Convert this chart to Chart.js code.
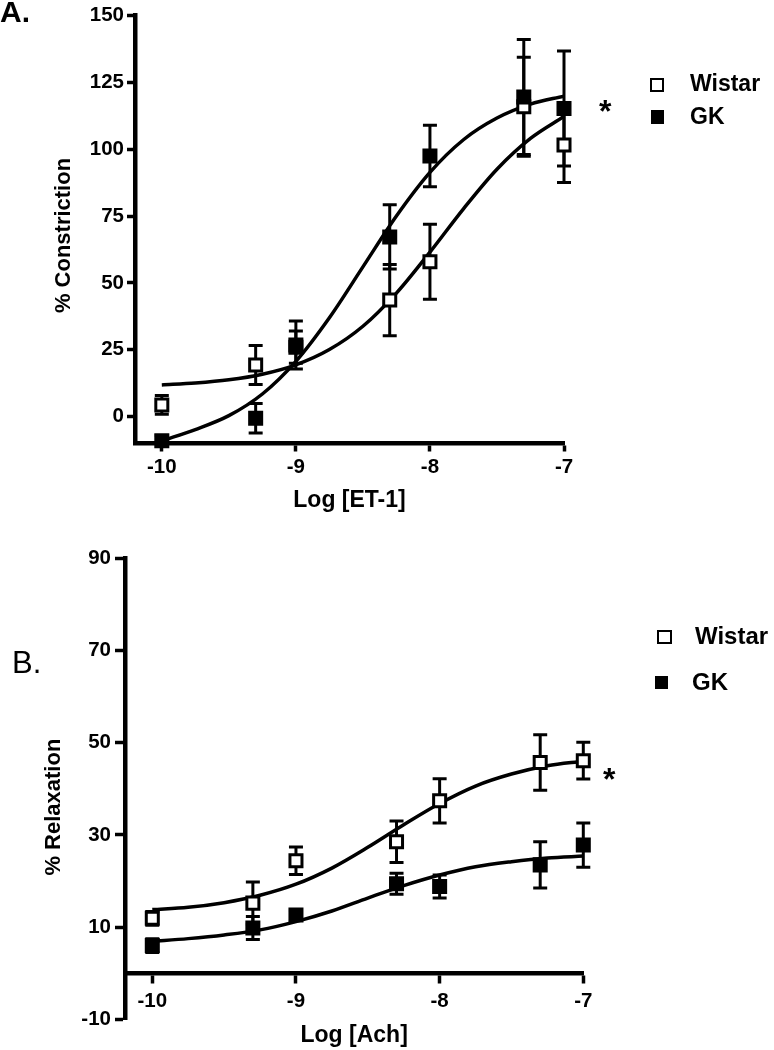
<!DOCTYPE html>
<html>
<head>
<meta charset="utf-8">
<script src="https://cdn.jsdelivr.net/npm/chart.js@4.4.0/dist/chart.umd.min.js"></script>
<style>
body { margin: 0; background: #fff; width: 774px; height: 1050px; position: relative; overflow: hidden; font-family: "Liberation Sans", Arial, sans-serif; }
#wrapA { position: absolute; left: 0; top: 0; width: 774px; height: 520px; }
#wrapB { position: absolute; left: 0; top: 520px; width: 774px; height: 530px; }
.lbl { position: absolute; line-height: 1; white-space: nowrap; color: #000; font-weight: bold; }
.sq { position: absolute; box-sizing: border-box; border: 2.5px solid #000; }
</style>
</head>
<body>
<div id="wrapA"><canvas id="chartA" width="774" height="520"></canvas></div>
<div id="wrapB"><canvas id="chartB" width="774" height="530"></canvas></div>

<div class="lbl" style="left:0px;top:-3px;font-size:30px;">A.</div>
<div class="lbl" style="left:12px;top:647px;font-size:31px;font-weight:normal;">B.</div>

<div class="sq" style="left:650px;top:78px;width:14px;height:14px;background:#fff;"></div>
<div class="lbl" style="left:690px;top:72px;font-size:23px;">Wistar</div>
<div class="sq" style="left:651px;top:110px;width:13px;height:14px;background:#000;"></div>
<div class="lbl" style="left:690px;top:105px;font-size:23px;">GK</div>
<div class="lbl" style="left:599px;top:95px;font-size:32px;">*</div>

<div class="sq" style="left:657px;top:630px;width:15px;height:14px;background:#fff;"></div>
<div class="lbl" style="left:695px;top:624px;font-size:24px;">Wistar</div>
<div class="sq" style="left:655px;top:676px;width:13px;height:13px;background:#000;"></div>
<div class="lbl" style="left:692px;top:670px;font-size:24px;">GK</div>
<div class="lbl" style="left:603px;top:763px;font-size:32px;">*</div>

<script>
// doses (log M) shared by both panels
var doses = [-10, -9.3, -9, -8.3, -8, -7.3, -7];
var curveX = [-10, -9.75, -9.5, -9.25, -9, -8.75, -8.5, -8.25, -8, -7.75, -7.5, -7.25, -7];
var xTicks = [-10, -9, -8, -7];

// A. ET-1 constriction
var wistarA = [4.4, 19.3, 26, 43.6, 57.9, 115.8, 101.5];
var wistarErrA = [3.5, 7.3, 6, 13.3, 14, 18.5, 14];
var gkA = [-9, -0.6, 26.8, 67.2, 97.4, 119.5, 115.2];
var gkErrA = [2, 5.5, 9, 12, 11.5, 21.5, 21.5];
var fitWistarA = [11.9, 12.6, 13.8, 15.9, 19.4, 25.1, 33.8, 46.2, 61.5, 77.7, 92.5, 104, 112.2];
var fitGkA = [-9, -4.8, 0.4, 8.5, 20.7, 37, 56, 75, 91.3, 103.5, 111.6, 116.8, 119.8];
var yTicksA = [0, 25, 50, 75, 100, 125, 150];

// B. Ach relaxation
var wistarB = [11.9, 15.2, 24.4, 28.5, 37.4, 45.7, 46.1];
var wistarErrB = [1.5, 4.6, 3, 4.5, 4.8, 6, 4];
var gkB = [6, 9.8, 12.6, 19.4, 18.8, 23.5, 27.8];
var gkErrB = [1.5, 2.5, 1, 2.3, 2.5, 5, 4.8];
var fitWistarB = [13.8, 14.3, 15.3, 16.9, 19.3, 22.8, 27.3, 32.2, 36.8, 40.6, 43.2, 45, 46];
var fitGkB = [6.9, 7.5, 8.3, 9.4, 11.2, 13.5, 16.3, 19, 21.3, 23.1, 24.2, 25, 25.4];
var yTicksB = [-10, 10, 30, 50, 70, 90];

var FONT = '"Liberation Sans", Arial, sans-serif';

function pts(xs, ys) {
    return xs.map(function(x, i) { return { x: x, y: ys[i] }; });
}

// draws mean +/- SEM bars behind the squares
var errorBars = {
    id: 'errorBars',
    beforeDatasetsDraw: function(chart) {
        var ctx = chart.ctx, xs = chart.scales.x, ys = chart.scales.y, area = chart.chartArea;
        ctx.save();
        ctx.beginPath();
        ctx.rect(0, 0, chart.width, area.bottom);
        ctx.clip();
        ctx.strokeStyle = '#000';
        ctx.lineWidth = 3;
        chart.data.datasets.forEach(function(ds) {
            if (!ds.errors) return;
            ds.data.forEach(function(p, i) {
                var px = xs.getPixelForValue(p.x);
                var top = ys.getPixelForValue(p.y + ds.errors[i]);
                var bot = ys.getPixelForValue(p.y - ds.errors[i]);
                ctx.beginPath();
                ctx.moveTo(px, top); ctx.lineTo(px, bot);
                ctx.moveTo(px - 7, top); ctx.lineTo(px + 7, top);
                ctx.moveTo(px - 7, bot); ctx.lineTo(px + 7, bot);
                ctx.stroke();
            });
        });
        ctx.restore();
    }
};

function markers(label, data, errs, fill) {
    return {
        label: label, data: data, errors: errs, showLine: false, clip: false,
        pointStyle: 'rect', pointRadius: 8.5, pointHoverRadius: 8.5,
        pointBackgroundColor: fill, pointBorderColor: '#000', pointBorderWidth: 3
    };
}

function curve(data) {
    return {
        data: data, showLine: true, pointRadius: 0, borderColor: '#000', borderWidth: 3.5,
        cubicInterpolationMode: 'monotone', fill: false
    };
}

function axisStyle(tickLen, pad) {
    return {
        grid: { display: true, drawOnChartArea: false, drawTicks: true, tickLength: tickLen, tickWidth: 3.5, tickColor: '#000' },
        border: { display: true, width: 4.5, color: '#000' },
        ticks: { color: '#000', padding: pad, font: { family: FONT, size: 20.5, weight: 'bold' }, callback: function(v) { return String(v); } }
    };
}

Chart.defaults.animation = false;

var xA = axisStyle(8, 4);
xA.type = 'linear'; xA.min = -10.2; xA.max = -7;
xA.afterBuildTicks = function(s) { s.ticks = xTicks.map(function(v) { return { value: v }; }); };
xA.afterFit = function(s) { s.height = 76.5; };
xA.title = { display: true, text: 'Log [ET-1]', color: '#000', font: { family: FONT, size: 23, weight: 'bold' }, padding: { top: 0, bottom: 6 } };

var yA = axisStyle(8, 3);
yA.type = 'linear'; yA.min = -10; yA.max = 150;
yA.afterBuildTicks = function(s) { s.ticks = yTicksA.map(function(v) { return { value: v }; }); };
yA.afterFit = function(s) { s.width = 135; };
yA.title = { display: true, text: '% Constriction  ', color: '#000', font: { family: FONT, size: 22, weight: 'bold' }, padding: { top: 51, bottom: 0 } };

new Chart(document.getElementById('chartA').getContext('2d'), {
    type: 'scatter',
    data: {
        datasets: [
            markers('GK', pts(doses, gkA), gkErrA, '#000'),
            markers('Wistar', pts(doses, wistarA), wistarErrA, '#fff'),
            curve(pts(curveX, fitGkA)),
            curve(pts(curveX, fitWistarA))
        ]
    },
    options: {
        responsive: false,
        layout: { padding: { left: 0, top: 15, right: 210, bottom: 0 } },
        scales: { x: xA, y: yA },
        plugins: { legend: { display: false }, tooltip: { enabled: false } }
    },
    plugins: [errorBars]
});

var xB = axisStyle(8, 8);
xB.type = 'linear'; xB.min = -10.19; xB.max = -7;
xB.position = { y: 0 };
xB.afterBuildTicks = function(s) { s.ticks = xTicks.map(function(v) { return { value: v }; }); };
xB.afterFit = function(s) { s.height = 76; };
xB.title = { display: true, text: 'Log [Ach]', color: '#000', font: { family: FONT, size: 23, weight: 'bold' }, padding: { top: 0, bottom: 0 } };

var yB = axisStyle(10, 4);
yB.type = 'linear'; yB.min = -10; yB.max = 90;
yB.afterBuildTicks = function(s) { s.ticks = yTicksB.map(function(v) { return { value: v }; }); };
yB.afterFit = function(s) { s.width = 125; };
yB.title = { display: true, text: '% Relaxation      ', color: '#000', font: { family: FONT, size: 22, weight: 'bold' }, padding: { top: 41, bottom: 0 } };

new Chart(document.getElementById('chartB').getContext('2d'), {
    type: 'scatter',
    data: {
        datasets: [
            markers('Wistar', pts(doses, wistarB), wistarErrB, '#fff'),
            markers('GK', pts(doses, gkB), gkErrB, '#000'),
            curve(pts(curveX, fitWistarB)),
            curve(pts(curveX, fitGkB))
        ]
    },
    options: {
        responsive: false,
        layout: { padding: { left: 0, top: 38.3, right: 190.7, bottom: 30.7 } },
        scales: { x: xB, y: yB },
        plugins: { legend: { display: false }, tooltip: { enabled: false } }
    },
    plugins: [errorBars]
});
</script>
</body>
</html>
